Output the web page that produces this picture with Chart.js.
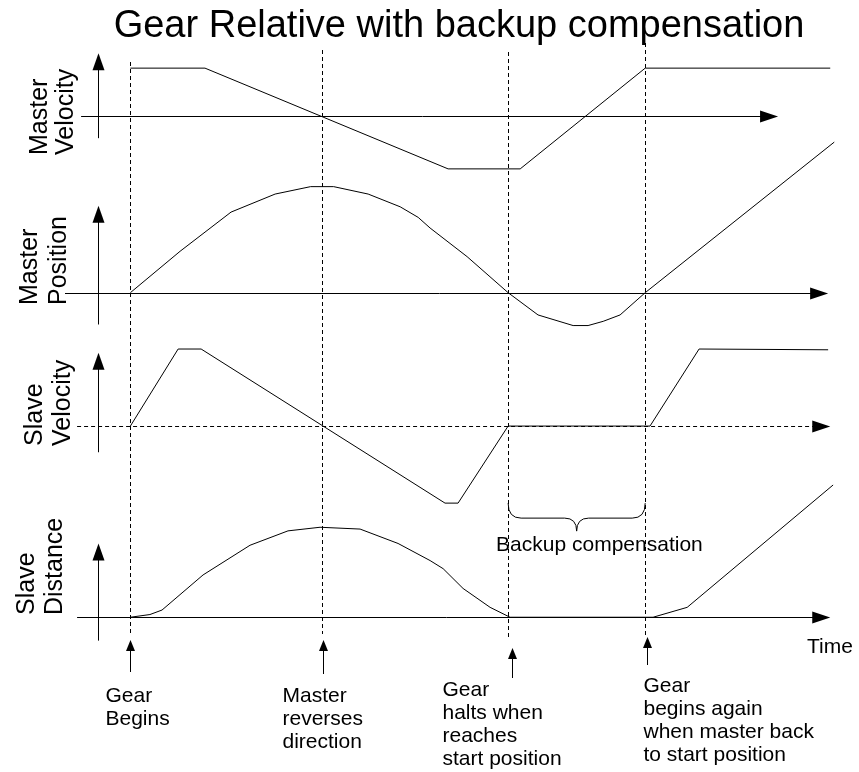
<!DOCTYPE html>
<html>
<head>
<meta charset="utf-8">
<title>Gear Relative with backup compensation</title>
<script src="https://cdn.jsdelivr.net/npm/chart.js@4.4.0/dist/chart.umd.min.js"></script>
<style>
  html, body { margin: 0; padding: 0; background: #fff; }
  #wrap { position: relative; width: 859px; height: 772px; }
</style>
</head>
<body>
<div id="wrap"><canvas id="myChart"></canvas></div>
<script>
// time in arbitrary units, gear begins at t = 0
var eventTimes = [0, 10, 19.7, 26.85];
var eventLabels = [
    ['Gear', 'Begins'],
    ['Master', 'reverses', 'direction'],
    ['Gear', 'halts when', 'reaches', 'start position'],
    ['Gear', 'begins again', 'when master back', 'to start position']
];

var masterVelTime = [0, 3.89, 16.57, 20.33, 26.85, 36.5];
var masterVelValue = [1, 1, -1.1, -1.1, 1, 1];

var masterPosTime = [0, 2.59, 5.25, 7.55, 9.4, 10.6, 12.4, 14.07, 15.01, 15.63, 17.56, 19.7, 21.26, 23.09, 23.87, 24.66, 25.54, 26.85, 36.71];
var masterPosValue = [0, 0.39, 0.76, 0.93, 1, 1, 0.93, 0.81, 0.71, 0.61, 0.34, 0, -0.21, -0.31, -0.31, -0.27, -0.21, 0, 1.42];

var slaveVelTime = [0, 2.49, 3.69, 16.41, 17.09, 19.7, 27.1, 29.66, 36.39];
var slaveVelValue = [0, 1, 1, -1, -1, 0, 0, 1, 0.99];

var slaveDistTime = [0, 1.02, 1.65, 3.79, 6.24, 8.22, 9.89, 11.98, 13.96, 15.63, 16.31, 17.35, 18.76, 19.8, 27.26, 29.04, 36.65];
var slaveDistValue = [0, 0.03, 0.08, 0.47, 0.8, 0.96, 1, 0.98, 0.82, 0.63, 0.54, 0.32, 0.11, 0, 0, 0.11, 1.47];

var panelNames = [['Master', 'Velocity'], ['Master', 'Position'], ['Slave', 'Velocity'], ['Slave', 'Distance']];

var FONT = '"Liberation Sans", Arial, sans-serif';

function toPoints(times, values) {
    return times.map(function(t, i) { return {x: t, y: values[i]}; });
}

// axis arrows, labels etc for each panel
var panels = [
    {axis: 'yMV', from: -2.57, to: 33.78, dashed: false, lo: -0.46, hi: 1.31, labelX: [47, 73], labelY: 155},
    {axis: 'yMP', from: -3.41, to: 36.39, dashed: false, lo: -0.30, hi: 0.82, labelX: [37, 66], labelY: 305},
    {axis: 'ySV', from: -2.78, to: 36.5, dashed: true, lo: -0.34, hi: 0.95, labelX: [42, 70], labelY: 446},
    {axis: 'ySD', from: -2.78, to: 36.5, dashed: false, lo: -0.26, hi: 0.82, labelX: [34, 62], labelY: 615}
];
var yArrowTime = -1.69;

var eventLineTop = [62, 50, 52, 43];
var eventLineBottom = [634, 634, 638, 637];
var eventArrowShift = [0, 1, 4, 2];
var eventArrowTip = [640, 640, 648, 637];
var eventArrowTail = [672, 674, 678, 665];
var eventLabelShift = [-25, -40, -66, -2];
var eventLabelBase = [702, 702, 696, 692];

function arrowHead(ctx, x, y, dx, dy, len, half) {
    ctx.beginPath();
    ctx.moveTo(x, y);
    ctx.lineTo(x - dx * len - dy * half, y - dy * len + dx * half);
    ctx.lineTo(x - dx * len + dy * half, y - dy * len - dx * half);
    ctx.closePath();
    ctx.fill();
}

var diagramPlugin = {
    id: 'diagram',
    afterDatasetsDraw: function(chart) {
        var ctx = chart.ctx;
        var xs = chart.scales.x;
        ctx.save();
        ctx.strokeStyle = '#000';
        ctx.fillStyle = '#000';
        ctx.lineWidth = 1;

        // panel axes
        panels.forEach(function(p, i) {
            var ys = chart.scales[p.axis];
            var y0 = Math.round(ys.getPixelForValue(0)) + 0.5;
            var x1 = xs.getPixelForValue(p.from);
            var x2 = xs.getPixelForValue(p.to);
            ctx.setLineDash(p.dashed ? [4, 3] : []);
            ctx.beginPath();
            ctx.moveTo(x1, y0);
            ctx.lineTo(x2 - 14, y0);
            ctx.stroke();
            ctx.setLineDash([]);
            arrowHead(ctx, x2, y0, 1, 0, 18, 6);

            var ax = Math.round(xs.getPixelForValue(yArrowTime)) + 0.5;
            var yb = ys.getPixelForValue(p.lo);
            var yt = ys.getPixelForValue(p.hi);
            ctx.beginPath();
            ctx.moveTo(ax, yb);
            ctx.lineTo(ax, yt + 14);
            ctx.stroke();
            arrowHead(ctx, ax, yt, 0, -1, 17, 6);

            ctx.save();
            ctx.font = '25px ' + FONT;
            ctx.textAlign = 'left';
            ctx.textBaseline = 'alphabetic';
            panelNames[i].forEach(function(line, j) {
                ctx.save();
                ctx.translate(p.labelX[j], p.labelY);
                ctx.rotate(-Math.PI / 2);
                ctx.fillText(line, 0, 0);
                ctx.restore();
            });
            ctx.restore();
        });

        // event markers
        ctx.font = '21px ' + FONT;
        ctx.textAlign = 'left';
        eventTimes.forEach(function(t, i) {
            var ex = Math.round(xs.getPixelForValue(t)) + 0.5;
            ctx.setLineDash([4, 3]);
            ctx.beginPath();
            ctx.moveTo(ex, eventLineTop[i]);
            ctx.lineTo(ex, eventLineBottom[i]);
            ctx.stroke();
            ctx.setLineDash([]);

            var axx = ex + eventArrowShift[i];
            ctx.beginPath();
            ctx.moveTo(axx, eventArrowTail[i]);
            ctx.lineTo(axx, eventArrowTip[i] + 8);
            ctx.stroke();
            arrowHead(ctx, axx, eventArrowTip[i], 0, -1, 11, 4.5);

            eventLabels[i].forEach(function(line, j) {
                ctx.fillText(line, ex + eventLabelShift[i], eventLabelBase[i] + j * 23);
            });
        });

        // backup compensation brace
        var bx1 = xs.getPixelForValue(eventTimes[2]);
        var bx2 = xs.getPixelForValue(eventTimes[3]);
        var btop = chart.scales.ySV.getPixelForValue(-1);
        var bmid = btop + 15;
        var btip = btop + 28;
        var bc = (bx1 + bx2) / 2;
        ctx.beginPath();
        ctx.moveTo(bx1, btop);
        ctx.quadraticCurveTo(bx1, bmid, bx1 + 13, bmid);
        ctx.lineTo(bc - 12, bmid);
        ctx.quadraticCurveTo(bc, bmid, bc, btip);
        ctx.quadraticCurveTo(bc, bmid, bc + 12, bmid);
        ctx.lineTo(bx2 - 13, bmid);
        ctx.quadraticCurveTo(bx2, bmid, bx2, btop);
        ctx.stroke();
        ctx.fillText('Backup compensation', bx1 - 12, 551);

        ctx.fillText('Time', 807, 653);

        ctx.font = '38px ' + FONT;
        ctx.textAlign = 'center';
        ctx.fillText('Gear Relative with backup compensation', 459, 37);
        ctx.restore();
    }
};

function lineSet(label, times, values, axisId) {
    return {
        label: label,
        data: toPoints(times, values),
        yAxisID: axisId,
        borderColor: '#000',
        borderWidth: 1,
        pointRadius: 0,
        tension: 0,
        fill: false
    };
}

var ctx = document.getElementById('myChart').getContext('2d');
var chart = new Chart(ctx, {
    type: 'line',
    data: {
        datasets: [
            lineSet('Master Velocity', masterVelTime, masterVelValue, 'yMV'),
            lineSet('Master Position', masterPosTime, masterPosValue, 'yMP'),
            lineSet('Slave Velocity', slaveVelTime, slaveVelValue, 'ySV'),
            lineSet('Slave Distance', slaveDistTime, slaveDistValue, 'ySD')
        ]
    },
    options: {
        responsive: true,
        maintainAspectRatio: false,
        animation: false,
        devicePixelRatio: 1,
        layout: { padding: 0 },
        plugins: {
            legend: { display: false },
            tooltip: { enabled: false }
        },
        scales: {
            x: { type: 'linear', min: -6.8, max: 38, display: false },
            yMV: { type: 'linear', min: -13.67, max: 2.42, display: false },
            yMP: { type: 'linear', min: -4.52, max: 2.76, display: false },
            ySV: { type: 'linear', min: -4.49, max: 5.53, display: false },
            ySD: { type: 'linear', min: -1.72, max: 6.86, display: false }
        }
    },
    plugins: [diagramPlugin]
});
</script>
</body>
</html>
